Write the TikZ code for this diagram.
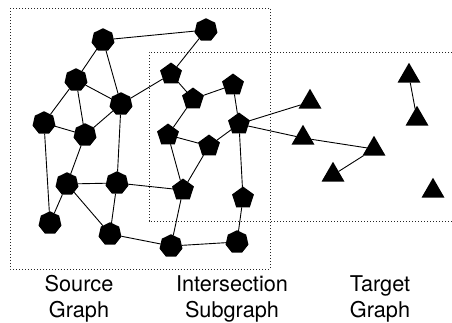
\documentclass[tikz,border=0pt]{standalone}
\usepackage{fontspec}
\setmainfont{TeX Gyre Heros}
\usetikzlibrary{shapes.geometric}

\tikzset{
  hepta/.style={regular polygon, regular polygon sides=7, fill=black, minimum size=23.5pt, inner sep=0pt, outer sep=0pt},
  penta/.style={regular polygon, regular polygon sides=5, fill=black, minimum size=23pt, inner sep=0pt, outer sep=0pt},
  trian/.style={regular polygon, regular polygon sides=3, fill=black, minimum size=26.5pt, inner sep=0pt, outer sep=0pt},
  link/.style={line width=0.9pt},
  region/.style={line width=1pt, black!85, dash pattern=on 1.3pt off 1.7pt},
  caption/.style={align=center, font=\fontsize{21.7}{26}\selectfont}
}

\begin{document}
\begin{tikzpicture}[x=1pt,y=-1pt]
\useasboundingbox (0,0) rectangle (452,322);
\draw[region] (10,8) rectangle (270,269);
\draw[region] (452,52) -- (149,52) -- (149,221) -- (452,221);

\node[hepta] (src1) at (103,40) {};
\node[hepta] (src2) at (206,30) {};
\node[hepta] (src3) at (76,80) {};
\node[hepta] (src4) at (121,104) {};
\node[hepta] (src5) at (44,123) {};
\node[hepta] (src6) at (85,135) {};
\node[hepta] (src7) at (67,184) {};
\node[hepta] (src8) at (117,183) {};
\node[hepta] (src9) at (50,223) {};
\node[hepta] (src10) at (110,234) {};
\node[hepta] (src11) at (171,246) {};
\node[hepta] (src12) at (237,242) {};

\node[penta] (int1) at (171,74) {};
\node[penta] (int2) at (193,99) {};
\node[penta] (int3) at (233,85) {};
\node[penta] (int4) at (239,124) {};
\node[penta] (int5) at (168,135) {};
\node[penta] (int6) at (209,146) {};
\node[penta] (int7) at (183,190) {};
\node[penta] (int8) at (243,198) {};

\node[trian] (tgt1) at (310,102) {};
\node[trian] (tgt2) at (303,138) {};
\node[trian] (tgt3) at (374,149) {};
\node[trian] (tgt4) at (409,76) {};
\node[trian] (tgt5) at (417,119) {};
\node[trian] (tgt6) at (333,175) {};
\node[trian] (tgt7) at (433,191) {};

\draw[link] (src1) -- (src2);
\draw[link] (src2) -- (int1);
\draw[link] (src1) -- (src3);
\draw[link] (src1) -- (src4);
\draw[link] (src3) -- (src4);
\draw[link] (src3) -- (src5);
\draw[link] (src3) -- (src6);
\draw[link] (src4) -- (int1);
\draw[link] (src4) -- (src6);
\draw[link] (src4) -- (src8);
\draw[link] (src5) -- (src6);
\draw[link] (src5) -- (src9);
\draw[link] (src6) -- (src7);
\draw[link] (src7) -- (src8);
\draw[link] (src7) -- (src9);
\draw[link] (src7) -- (src10);
\draw[link] (src8) -- (src10);
\draw[link] (src8) -- (int7);
\draw[link] (src10) -- (src11);
\draw[link] (src11) -- (src12);
\draw[link] (src11) -- (int7);
\draw[link] (src12) -- (int8);
\draw[link] (int1) -- (int2);
\draw[link] (int2) -- (int3);
\draw[link] (int2) -- (int5);
\draw[link] (int3) -- (int4);
\draw[link] (int4) -- (int6);
\draw[link] (int4) -- (int8);
\draw[link] (int5) -- (int6);
\draw[link] (int5) -- (int7);
\draw[link] (int6) -- (int7);
\draw[link] (int4) -- (tgt1);
\draw[link] (int4) -- (tgt2);
\draw[link] (tgt2) -- (tgt3);
\draw[link] (tgt3) -- (tgt6);
\draw[link] (tgt4) -- (tgt5);

\node[caption] (srcname) at (79,299) {Source\\Graph};
\node[caption] (intname) at (232,299) {Intersection\\Subgraph};
\node[caption] (tgtname) at (380,299) {Target\\Graph};
\end{tikzpicture}
\end{document}
